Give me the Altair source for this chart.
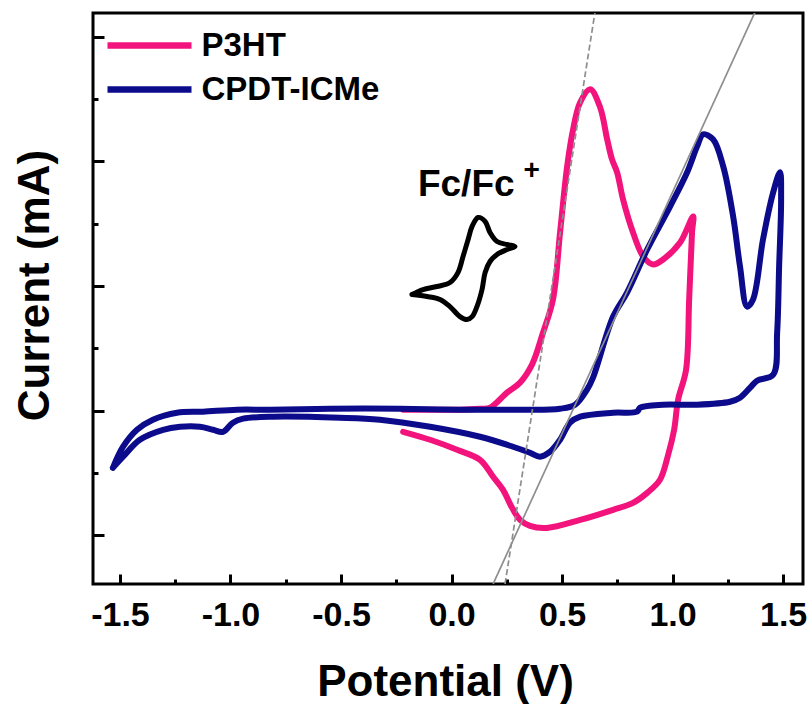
import altair as alt
import pandas as pd

# ---------------- data ----------------
series_names = ["P3HT", "CPDT-ICMe"]
series_colors = ["#F2137C", "#0B0B8C"]

p3ht_potential = [-0.219, -0.097, 0.038, 0.129, 0.174, 0.251, 0.310, 0.364, 0.414, 0.459,
                  0.491, 0.523, 0.550, 0.582, 0.627, 0.672, 0.704, 0.726, 0.749, 0.776,
                  0.821, 0.867, 0.912, 0.957, 1.034, 1.093, 1.088, 1.075, 1.061, 1.025,
                  1.007, 0.980, 0.943, 0.885, 0.821, 0.731, 0.582, 0.432, 0.355, 0.310,
                  0.274, 0.233, 0.188, 0.129, 0.025, -0.097, -0.219]
p3ht_current = [0.008, 0.008, 0.008, 0.016, 0.024, 0.145, 0.225, 0.369, 0.627, 0.892,
                1.430, 1.960, 2.257, 2.474, 2.578, 2.434, 2.177, 2.016, 1.912, 1.695,
                1.430, 1.237, 1.173, 1.213, 1.349, 1.558, 1.430, 0.892, 0.329, 0.088,
                -0.153, -0.353, -0.554, -0.659, -0.739, -0.795, -0.876, -0.940, -0.924, -0.876,
                -0.779, -0.635, -0.530, -0.394, -0.313, -0.233, -0.169]

cpdt_potential = [-1.532, -1.486, -1.423, -1.351, -1.242, -1.124, -0.971, -0.821, -0.550, -0.233,
                  0.038, 0.310, 0.491, 0.559, 0.613, 0.640, 0.731, 0.794, 0.885, 0.989,
                  1.066, 1.111, 1.138, 1.183, 1.229, 1.274, 1.305, 1.337, 1.364, 1.409,
                  1.455, 1.486, 1.491, 1.482, 1.473, 1.455, 1.382, 1.351, 1.305, 1.260,
                  1.111, 0.957, 0.853, 0.839, 0.731, 0.582, 0.536, 0.491, 0.446, 0.400,
                  0.355, 0.278, 0.129, -0.097, -0.324, -0.505, -0.808, -0.943, -0.989, -1.034,
                  -1.079, -1.138, -1.228, -1.305, -1.410, -1.486, -1.532]
cpdt_current = [-0.458, -0.289, -0.153, -0.072, -0.016, -0.008, 0.008, 0.008, 0.016, 0.016,
                0.008, 0.008, 0.016, 0.048, 0.169, 0.265, 0.755, 0.948, 1.293, 1.639,
                1.912, 2.120, 2.217, 2.177, 1.960, 1.558, 1.157, 0.835, 0.892, 1.373,
                1.751, 1.912, 1.695, 1.157, 0.627, 0.289, 0.241, 0.185, 0.104, 0.072,
                0.048, 0.048, 0.024, -0.008, -0.016, -0.048, -0.096, -0.233, -0.329, -0.369,
                -0.337, -0.289, -0.209, -0.129, -0.072, -0.056, -0.048, -0.064, -0.096, -0.169,
                -0.153, -0.129, -0.129, -0.153, -0.233, -0.369, -0.458]

fc_potential = [-0.179, -0.129, -0.066, -0.007, 0.029, 0.052, 0.075, 0.093, 0.120, 0.152,
                0.174, 0.206, 0.251, 0.287, 0.251, 0.206, 0.174, 0.152, 0.138, 0.115,
                0.093, 0.070, 0.038, -0.007, -0.052, -0.111, -0.179]
fc_current = [0.932, 0.972, 0.996, 1.028, 1.108, 1.237, 1.373, 1.478, 1.550, 1.518,
              1.430, 1.357, 1.333, 1.317, 1.293, 1.253, 1.197, 1.108, 0.972, 0.835,
              0.755, 0.731, 0.755, 0.835, 0.892, 0.916, 0.932]

tangent_id = ["steep", "steep", "shallow", "shallow"]
tangent_potential = [0.649, 0.242, 1.373, 0.188]
tangent_current = [3.197, -1.390, 3.197, -1.390]

x_major = [-1.5, -1.0, -0.5, 0.0, 0.5, 1.0, 1.5]
x_minor = [-1.25, -0.75, -0.25, 0.25, 0.75, 1.25]
y_major = [-1, 0, 1, 2, 3]
y_minor = [-0.5, 0.5, 1.5, 2.5]

# ---------------- tables ----------------
cv = pd.concat([
    pd.DataFrame({"potential": p3ht_potential, "current": p3ht_current,
                  "series": series_names[0], "idx": range(len(p3ht_potential))}),
    pd.DataFrame({"potential": cpdt_potential, "current": cpdt_current,
                  "series": series_names[1], "idx": range(len(cpdt_potential))}),
], ignore_index=True)
fc = pd.DataFrame({"potential": fc_potential, "current": fc_current, "idx": range(len(fc_potential))})
tan = pd.DataFrame({"potential": tangent_potential, "current": tangent_current, "line": tangent_id})

W, H = 710, 571
FONT = "Liberation Sans"
xs = alt.Scale(domain=[-1.622, 1.59], nice=False, zero=False)
ys = alt.Scale(domain=[-1.39, 3.19], nice=False, zero=False)

label_x_axis = alt.Axis(
    orient="bottom", values=x_major, ticks=False, tickSize=0, domain=False, grid=False,
    labelExpr="datum.value < 0 ? '-' + format(-datum.value, '.1f') : format(datum.value, '.1f')",
    labelFont=FONT, labelFontSize=34, labelFontWeight="bold", labelColor="black",
    labelBaseline="alphabetic", labelPadding=41, labelFlush=False, labelOverlap=False,
    title="Potential (V)", titleFont=FONT, titleFontSize=44, titleFontWeight="bold",
    titleColor="black", titleBaseline="alphabetic", titleY=111, titleX=352,
)
title_y_axis = alt.Axis(
    orient="left", labels=False, ticks=False, tickSize=0, domain=False, grid=False,
    title="Current (mA)", titleFont=FONT, titleFontSize=44, titleFontWeight="bold",
    titleColor="black", titleAngle=270, titleBaseline="middle", titleX=-58, titleY=272,
)


def tick_axis(orient, values, size, offset):
    return alt.Axis(orient=orient, offset=offset, values=values, labels=False, domain=False,
                    grid=False, ticks=True, tickSize=size, tickWidth=3, tickColor="black",
                    title=None)


legend = alt.Legend(
    title=None, orient="none", legendX=40, legendY=16, padding=0,
    symbolType="M-4.2,0H4.2", symbolSize=400, symbolStrokeWidth=6.5,
    labelFont=FONT, labelFontSize=33, labelFontWeight="bold", labelColor="black",
    labelOffset=35.5, rowPadding=10, labelLimit=400,
)

curves = alt.Chart(cv).mark_line(strokeWidth=6, strokeJoin="round", strokeCap="round",
                                 interpolate="catmull-rom", clip=True).encode(
    x=alt.X("potential:Q", scale=xs, axis=label_x_axis),
    y=alt.Y("current:Q", scale=ys, axis=title_y_axis),
    color=alt.Color("series:N", scale=alt.Scale(domain=series_names, range=series_colors), legend=legend),
    order=alt.Order("idx:Q"),
)

fc_loop = alt.Chart(fc).mark_line(color="black", strokeWidth=5, strokeJoin="round", strokeCap="round",
                                  interpolate="catmull-rom").encode(
    x=alt.X("potential:Q", scale=xs, axis=tick_axis("top", x_minor, 5, -H)),
    y=alt.Y("current:Q", scale=ys, axis=tick_axis("right", y_minor, 5, -W)),
    order=alt.Order("idx:Q"),
)

tangents = alt.Chart(tan).mark_line(color="#8e8e8e", strokeWidth=1.7, clip=True).encode(
    x=alt.X("potential:Q", scale=xs, axis=tick_axis("top", x_major, 10, -H)),
    y=alt.Y("current:Q", scale=ys, axis=tick_axis("right", y_major, 11, -W)),
    detail="line:N",
    strokeDash=alt.StrokeDash("line:N", scale=alt.Scale(domain=["steep", "shallow"], range=[[6, 3], [1, 0]]),
                              legend=None),
)

ann = pd.DataFrame({"t": ["Fc/Fc"]})
fc_text = alt.Chart(ann).mark_text(font=FONT, fontSize=37, fontWeight="bold", color="black",
                                   align="left", baseline="alphabetic").encode(
    x=alt.X(datum=-0.152, scale=xs, axis=None),
    y=alt.Y(datum=1.719, scale=ys, axis=None),
    text="t:N",
)
plus_text = alt.Chart(pd.DataFrame({"t": ["+"]})).mark_text(font=FONT, fontSize=28, fontWeight="bold",
                                                           color="black", align="left",
                                                           baseline="alphabetic").encode(
    x=alt.X(datum=0.326, scale=xs, axis=None),
    y=alt.Y(datum=1.86, scale=ys, axis=None),
    text="t:N",
)

chart = alt.layer(curves, fc_loop, tangents, fc_text, plus_text).resolve_scale(
    x="shared", y="shared"
).resolve_axis(
    x="independent", y="independent"
).properties(
    width=W, height=H,
    padding={"left": 93, "top": 13, "right": 8, "bottom": 120},
    autosize=alt.AutoSizeParams(type="none"),
    background="white",
).configure_view(stroke="black", strokeWidth=3)

chart.save("out.html", embed_options={"renderer": "svg", "actions": False})
